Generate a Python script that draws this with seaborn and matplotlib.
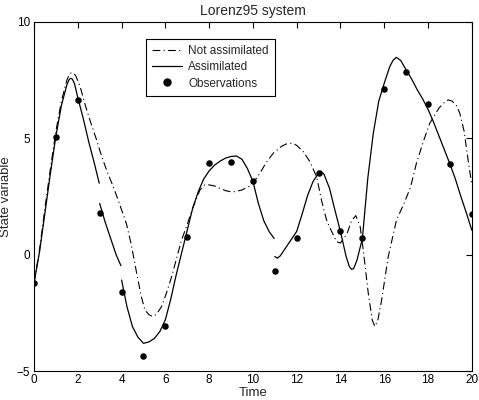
import numpy as np
import pandas as pd
import matplotlib
matplotlib.use("Agg")
import matplotlib.pyplot as plt
import seaborn as sns
from matplotlib.lines import Line2D

# ---- data ----
obs_t = list(range(21))
obs_v = [-1.22, 5.06, 6.65, 1.79, -1.60, -4.35, -3.06, 0.74, 3.94, 3.98, 3.17,
         -0.70, 0.71, 3.49, 1.02, 0.71, 7.11, 7.86, 6.49, 3.91, 1.75]

# Not assimilated (free run)
free_t = [0, 0.25, 0.5, 0.75, 1.0, 1.25, 1.5, 1.6, 1.7, 1.8, 1.9, 2.1, 2.35, 2.6, 2.86, 3.1,
          3.35, 3.62, 3.9, 4.23, 4.45, 4.69, 4.9, 5.07, 5.25, 5.42, 5.6, 5.83, 6.05,
          6.29, 6.5, 6.74, 7.0, 7.25, 7.58, 7.8, 8.0, 8.25, 8.5, 8.75, 9.0, 9.18, 9.5,
          9.86, 10.1, 10.32, 10.6, 10.93, 11.3, 11.5, 11.69, 11.85, 12.0, 12.3, 12.6, 12.91, 13.13,
          13.36, 13.52, 13.82, 14.0, 14.3, 14.5, 14.7, 14.9, 15.04, 15.27, 15.45, 15.57,
          15.7, 15.88, 16.18, 16.56, 16.94, 17.2, 17.47, 17.8, 18.08, 18.5, 18.75, 18.92, 19.1,
          19.3, 19.45, 19.65, 19.83, 20.0]
free_v = [-1.22, 0.2, 2.0, 3.7, 5.3, 6.6, 7.5, 7.72, 7.82, 7.8, 7.7, 7.25, 6.4, 5.65, 4.93, 4.2,
          3.55, 2.92, 2.2, 1.3, 0.4, -0.8, -1.8, -2.38, -2.58, -2.66, -2.55, -2.23,
          -1.65, -0.94, -0.2, 0.63, 1.3, 2.0, 2.78, 3.0, 3.0, 2.95, 2.85, 2.75, 2.7,
          2.71, 2.78, 2.95, 3.2, 3.5, 3.95, 4.36, 4.65, 4.75, 4.79, 4.77, 4.7, 4.43, 4.0, 3.35,
          2.35, 1.5, 1.15, 0.56, 0.5, 0.9, 1.45, 1.68, 1.2, 0.2, -1.66, -2.8, -3.09,
          -2.85, -1.95, -0.09, 1.49, 2.28, 2.9, 3.93, 4.9, 5.65, 6.3, 6.55, 6.65, 6.6,
          6.4, 6.08, 5.3, 4.07, 3.0]

# Assimilated run, in segments between analysis updates
seg1_t = [0, 0.25, 0.5, 0.75, 1.0, 1.25, 1.5, 1.6, 1.67, 1.75, 1.85, 2.0, 2.25, 2.5, 2.75, 2.98]
seg1_v = [-1.22, 0.1, 1.8, 3.5, 5.1, 6.4, 7.3, 7.52, 7.58, 7.55, 7.35, 6.75, 5.85, 4.85, 3.95, 3.07]
seg2_t = [3.0, 3.25, 3.5, 3.75, 3.97]
seg2_v = [2.2, 1.4, 0.7, 0.0, -0.47]
seg3_t = [4.0, 4.25, 4.5, 4.75, 5.0, 5.25, 5.5, 5.75, 6.0, 6.25, 6.5, 6.75, 7.0, 7.25,
          7.5, 7.75, 8.0, 8.25, 8.5, 8.75, 9.0, 9.25, 9.5, 9.75, 10.0, 10.25, 10.5,
          10.75, 10.97]
seg3_v = [-1.09, -2.25, -3.1, -3.55, -3.81, -3.75, -3.6, -3.3, -2.8, -1.9, -0.85, 0.1,
          1.05, 2.0, 2.7, 3.25, 3.6, 3.85, 4.02, 4.15, 4.22, 4.24, 4.1, 3.7, 3.15, 2.2,
          1.45, 0.98, 0.70]
seg4_t = [11.0, 11.12, 11.25, 11.5, 11.75, 12.0, 12.25, 12.5, 12.75, 13.0, 13.12, 13.25,
          13.5, 13.75, 14.0, 14.25, 14.4, 14.5, 14.6, 14.75, 15.0, 15.25, 15.5, 15.75, 16.0,
          16.25, 16.4, 16.55, 16.75, 17.0, 17.25, 17.5, 17.75, 18.0, 18.25, 18.5, 18.75,
          19.0, 19.25, 19.5, 19.75, 20.0]
seg4_v = [-0.08, -0.15, -0.05, 0.3, 0.65, 1.0, 1.75, 2.55, 3.15, 3.5, 3.58, 3.45, 2.85,
          1.9, 0.99, -0.05, -0.5, -0.63, -0.6, -0.25, 0.69, 3.3, 5.22, 6.6, 7.37, 8.08,
          8.35, 8.48, 8.35, 7.94, 7.55, 7.1, 6.7, 6.25, 5.7, 5.1, 4.5, 3.9, 3.25, 2.5,
          1.8, 1.05]

x_ticks = [0, 2, 4, 6, 8, 10, 12, 14, 16, 18, 20]
y_ticks = [-5, 0, 5, 10]

# ---- build tables ----
free_df = pd.DataFrame({"t": free_t, "v": free_v})
segs = [(seg1_t, seg1_v), (seg2_t, seg2_v), (seg3_t, seg3_v), (seg4_t, seg4_v)]
assim_df = pd.concat([pd.DataFrame({"t": t, "v": v, "seg": i})
                      for i, (t, v) in enumerate(segs)], ignore_index=True)
obs_df = pd.DataFrame({"t": obs_t, "v": obs_v})

sns.set_style("white")
plt.rcParams["font.family"] = ["Liberation Sans", "DejaVu Sans"]

fig = plt.figure(figsize=(4.79, 4.0), dpi=100)
ax = fig.add_axes([0.071, 0.0725, 0.914, 0.8725])

dashdot = (0, (7, 3, 1, 3))
sns.lineplot(data=free_df, x="t", y="v", ax=ax, color="black", lw=0.8,
             linestyle=dashdot, sort=False, estimator=None)
sns.lineplot(data=assim_df, x="t", y="v", units="seg", ax=ax, color="black",
             lw=0.9, sort=False, estimator=None)
sns.scatterplot(data=obs_df, x="t", y="v", ax=ax, color="black", s=22,
                edgecolor="black", linewidth=0, zorder=5)

ax.set_xlim(0, 20)
ax.set_ylim(-5, 10)
ax.set_xticks(x_ticks)
ax.set_yticks(y_ticks)
ax.tick_params(direction="in", length=4, width=0.8, top=True, right=True,
               labelsize=8.5, pad=3, colors="black")
ax.tick_params(axis="x", pad=2)
for s in ax.spines.values():
    s.set_visible(True)
    s.set_color("black")
    s.set_linewidth(0.8)

ax.set_title("Lorenz95 system", fontsize=10, pad=5)
ax.set_xlabel("Time", fontsize=9.5)
ax.xaxis.set_label_coords(0.5, -0.045)
ax.set_ylabel("State variable", fontsize=9.5, labelpad=3)

handles = [Line2D([], [], color="black", lw=0.8, linestyle=dashdot),
           Line2D([], [], color="black", lw=0.9),
           Line2D([], [], color="black", lw=0, marker="o", markersize=5)]
labels = ["Not assimilated", "Assimilated", "Observations"]
leg = ax.legend(handles, labels, loc="upper left", bbox_to_anchor=(0.255, 0.95),
                fontsize=8.5, frameon=True, fancybox=False, edgecolor="black",
                framealpha=1, handlelength=2.6, borderpad=0.5, labelspacing=0.35,
                handletextpad=0.5, borderaxespad=0)
leg.get_frame().set_linewidth(0.8)

fig.savefig("out.png", dpi=100)
